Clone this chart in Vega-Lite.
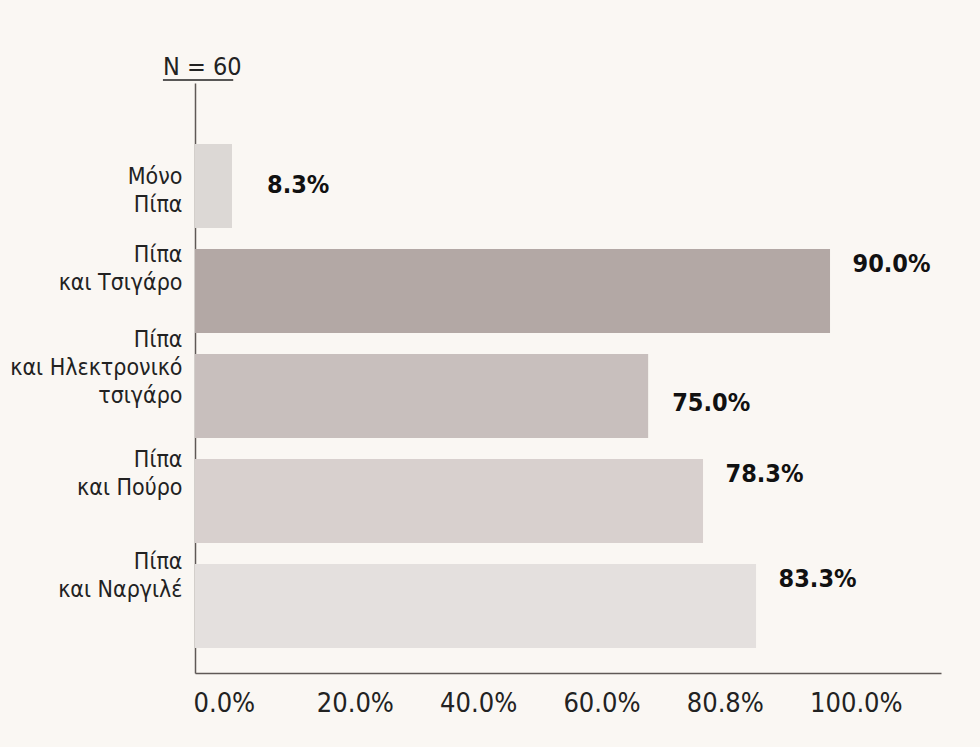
{
  "$schema": "https://vega.github.io/schema/vega-lite/v6.json",
  "width": 746,
  "height": 590,
  "autosize": {"type": "none"},
  "padding": {"left": 195, "top": 83, "right": 39, "bottom": 74},
  "background": "#faf7f3",
  "config": {
    "view": {"stroke": null},
    "font": "DejaVu Sans Condensed, DejaVu Sans, sans-serif"
  },
  "title": {
    "text": "N = 60",
    "anchor": "start",
    "frame": "group",
    "dx": -32,
    "dy": 26,
    "offset": 5,
    "baseline": "alphabetic",
    "fontSize": 25,
    "fontWeight": "normal",
    "color": "#222222"
  },
  "data": {
    "values": [
      {"cat": "Μόνο|Πίπα", "value": 8.3, "bar": 6.0, "label": "8.3%"},
      {"cat": "Πίπα|και Τσιγάρο", "value": 90.0, "bar": 103.0, "label": "90.0%"},
      {"cat": "Πίπα|και Ηλεκτρονικό|τσιγάρο", "value": 75.0, "bar": 73.5, "label": "75.0%"},
      {"cat": "Πίπα|και Πούρο", "value": 78.3, "bar": 82.4, "label": "78.3%"},
      {"cat": "Πίπα|και Ναργιλέ", "value": 83.3, "bar": 91.0, "label": "83.3%"}
    ]
  },
  "encoding": {
    "y": {
      "field": "cat",
      "type": "nominal",
      "sort": null,
      "scale": {"paddingInner": 0.2, "paddingOuter": 0.41, "align": 0.71},
      "axis": {
        "title": null,
        "ticks": false,
        "grid": false,
        "domainColor": "#5f5956",
        "domainWidth": 1.5,
        "labelExpr": "split(datum.label, '|')",
        "labelFontSize": 23,
        "labelColor": "#222222",
        "labelPadding": 13,
        "labelLineHeight": 28,
        "labelLimit": 0,
        "labelOffset": {
          "condition": [
            {"test": "datum.value == 'Μόνο|Πίπα'", "value": -9},
            {"test": "datum.value == 'Πίπα|και Τσιγάρο'", "value": -36},
            {"test": "datum.value == 'Πίπα|και Ηλεκτρονικό|τσιγάρο'", "value": -56},
            {"test": "datum.value == 'Πίπα|και Πούρο'", "value": -41}
          ],
          "value": -44
        }
      }
    }
  },
  "layer": [
    {
      "mark": {"type": "bar"},
      "encoding": {
        "x": {
          "field": "bar",
          "type": "quantitative",
          "scale": {"domain": [0, 121], "nice": false, "zero": true},
          "axis": {
            "title": null,
            "values": [0, 20, 40, 60, 80, 100],
            "labelExpr": "datum.value == 80 ? '80.8%' : format(datum.value, '.1f') + '%'",
            "ticks": false,
            "grid": false,
            "domainColor": "#5f5956",
            "domainWidth": 1.5,
            "labelAlign": "left",
            "labelBaseline": "top",
            "labelOffset": -2,
            "labelPadding": 17,
            "labelFontSize": 27,
            "labelColor": "#222222",
            "labelFlush": false,
            "labelOverlap": false
          }
        },
        "color": {
          "field": "cat",
          "type": "nominal",
          "legend": null,
          "scale": {
            "domain": ["Μόνο|Πίπα", "Πίπα|και Τσιγάρο", "Πίπα|και Ηλεκτρονικό|τσιγάρο", "Πίπα|και Πούρο", "Πίπα|και Ναργιλέ"],
            "range": ["#dcd8d5", "#b3a8a5", "#c8bfbd", "#d8d0ce", "#e4e0de"]
          }
        }
      }
    },
    {
      "transform": [{"filter": "datum.value < 10"}],
      "mark": {"type": "text", "align": "left", "baseline": "middle", "dx": 35, "dy": -1, "fontWeight": "bold", "fontSize": 25, "color": "#111111"},
      "encoding": {"x": {"field": "bar", "type": "quantitative"}, "text": {"field": "label"}}
    },
    {
      "transform": [{"filter": "datum.value == 75"}],
      "mark": {"type": "text", "align": "left", "baseline": "middle", "dx": 24, "dy": 7, "fontWeight": "bold", "fontSize": 25, "color": "#111111"},
      "encoding": {"x": {"field": "bar", "type": "quantitative"}, "text": {"field": "label"}}
    },
    {
      "transform": [{"filter": "datum.value > 76"}],
      "mark": {"type": "text", "align": "left", "baseline": "middle", "dx": 22.5, "dy": -27, "fontWeight": "bold", "fontSize": 25, "color": "#111111"},
      "encoding": {"x": {"field": "bar", "type": "quantitative"}, "text": {"field": "label"}}
    },
    {
      "data": {"values": [{}]},
      "mark": {"type": "rule", "stroke": "#222222", "strokeWidth": 1.5},
      "encoding": {"x": {"datum": -5.2}, "x2": {"datum": 6.2}, "y": {"value": -3}}
    }
  ]
}
